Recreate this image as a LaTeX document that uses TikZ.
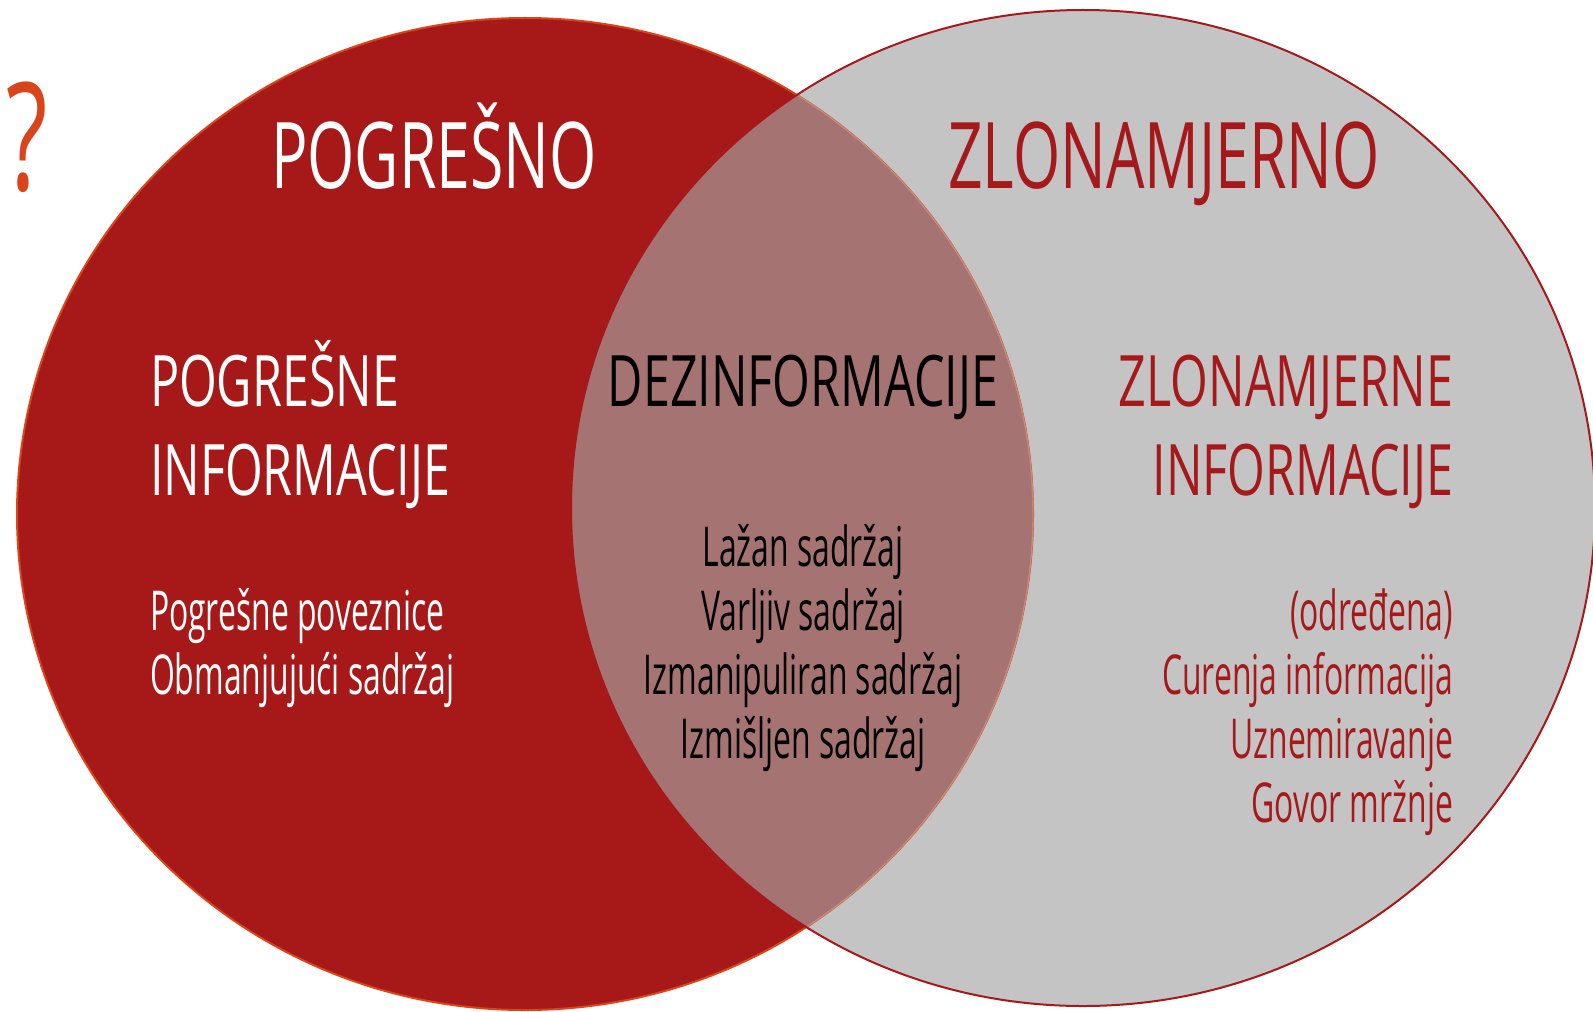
\documentclass[tikz,border=0pt]{standalone}
\usepackage{fontspec}
\setmainfont{Open Sans}[FakeStretch=0.64]
\newfontfamily\bigfont{Open Sans}[FakeStretch=0.66]
\newfontfamily\midfont{Open Sans}[FakeStretch=0.683]
\newfontfamily\smallfont{Open Sans}[FakeStretch=0.58]
\definecolor{redfill}{HTML}{A71819}
\definecolor{redline}{HTML}{D9441A}
\definecolor{grayfill}{HTML}{C4C4C4}
\definecolor{darkred}{HTML}{A6191B}
\definecolor{mauve}{HTML}{A57371}
\definecolor{mauveline}{HTML}{C48A7C}
\definecolor{qorange}{HTML}{D9441A}
\tikzset{
  txt/.style={inner sep=0pt, outer sep=0pt},
  big/.style={txt, font=\bigfont\fontsize{46}{50}\selectfont},
  mid/.style={txt, font=\midfont\fontsize{35.5}{40}\selectfont},
  small/.style={txt, font=\smallfont\fontsize{27.5}{32}\selectfont},
}
\begin{document}
\begin{tikzpicture}[x=0.5pt,y=-0.5pt]
\useasboundingbox (0,0) rectangle (1593,1011);
\fill[white] (0,0) rectangle (1593,1011);
\coordinate (L) at (525,514);
\coordinate (R) at (1083,508);
% right circle
\fill[grayfill] (R) ellipse [x radius=256pt, y radius=249pt];
% left circle
\fill[redfill] (L) ellipse [x radius=254pt, y radius=248pt];
\draw[redline, line width=1pt] (L) ellipse [x radius=254pt, y radius=248pt];
% intersection
\begin{scope}
  \clip (L) ellipse [x radius=254pt, y radius=248pt];
  \fill[mauve] (R) ellipse [x radius=256pt, y radius=249pt];
\end{scope}
\begin{scope}
  \clip (R) ellipse [x radius=256pt, y radius=249pt];
  \draw[mauveline, line width=0.7pt] (L) ellipse [x radius=254pt, y radius=248pt];
\end{scope}
\draw[darkred, line width=1pt] (R) ellipse [x radius=256pt, y radius=249pt];

% texts
\node[txt, font=\fontsize{75}{80}\selectfont, text=qorange, anchor=base] (q) at (27,190) {?};
\node[big, text=white, anchor=base] (pogresno) at (434,188) {POGREŠNO};
\node[big, text=darkred, anchor=base] (zlo) at (1164,188) {ZLONAMJERNO};

\node[mid, text=white, anchor=base west] (pi1) at (150,406) {POGREŠNE};
\node[mid, text=white, anchor=base west] (pi2) at (150,495) {INFORMACIJE};
\node[mid, text=black, anchor=base] (dez) at (803,406) {DEZINFORMACIJE};
\node[mid, text=darkred, anchor=base east] (zi1) at (1453,406) {ZLONAMJERNE};
\node[mid, text=darkred, anchor=base east] (zi2) at (1453,495) {INFORMACIJE};

\node[small, text=white, anchor=base west] (l1) at (150,630) {Pogrešne poveznice};
\node[small, text=white, anchor=base west] (l2) at (150,694) {Obmanjujući sadržaj};

\node[small, text=black, anchor=base] (c1) at (803,566) {Lažan sadržaj};
\node[small, text=black, anchor=base] (c2) at (803,630) {Varljiv sadržaj};
\node[small, text=black, anchor=base] (c3) at (803,694) {Izmanipuliran sadržaj};
\node[small, text=black, anchor=base] (c4) at (803,758) {Izmišljen sadržaj};

\node[small, text=darkred, anchor=base east] (r1) at (1453,630) {(određena)};
\node[small, text=darkred, anchor=base east] (r2) at (1453,694) {Curenja informacija};
\node[small, text=darkred, anchor=base east] (r3) at (1453,758) {Uznemiravanje};
\node[small, text=darkred, anchor=base east] (r4) at (1453,822) {Govor mržnje};
\end{tikzpicture}
\end{document}
